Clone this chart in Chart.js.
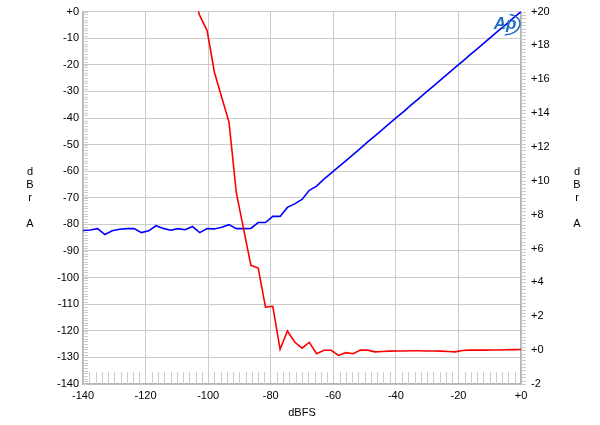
<!DOCTYPE html>
<html>
<head>
<meta charset="utf-8">
<script src="https://cdn.jsdelivr.net/npm/chart.js@4.4.1/dist/chart.umd.min.js"></script>
<style>
    html, body { margin: 0; padding: 0; background: #fff; overflow: hidden; }
    #wrap { position: relative; width: 600px; height: 425px; overflow: hidden; }
    #inner { position: absolute; left: 0; top: -5px; width: 600px; height: 430px; }
</style>
</head>
<body>
<div id="wrap"><div id="inner"><canvas id="myChart"></canvas></div></div>
<script>
// sweep levels, dBFS
const levels = [
    -140, -137.67, -135.33, -133, -130.67, -128.33, -126, -123.67, -121.33, -119,
    -116.67, -114.33, -112, -109.67, -107.33, -105, -102.67, -100.33, -98, -95.67,
    -93.33, -91, -88.67, -86.33, -84, -81.67, -79.33, -77, -74.67, -72.33,
    -70, -67.67, -65.33, -63, -60.67, -58.33, -56, -53.67, -51.33, -49,
    -46.67, -44.33, -42, -39.67, -37.33, -35, -32.67, -30.33, -28, -25.67,
    -23.33, -21, -18.67, -16.33, -14, -11.67, -9.33, -7, -4.67, -2.33, 0
];

// blue trace, left axis (dBr A)
const levelOut = [
    -82.3, -82.1, -81.6, -83.8, -82.4, -81.8, -81.6, -81.6, -83.1, -82.4,
    -80.5, -81.5, -82.2, -81.6, -82.0, -80.8, -83.1, -81.6, -81.7, -81.1,
    -80.1, -81.6, -81.6, -81.5, -79.3, -79.3, -77.0, -77.0, -73.6, -72.3,
    -70.6, -67.2, -65.6, -63.0, -60.7, -58.4, -56.1, -53.8, -51.4, -49.0,
    -46.7, -44.4, -42.0, -39.7, -37.4, -35.0, -32.7, -30.3, -28.0, -25.7,
    -23.3, -21.0, -18.7, -16.3, -14.0, -11.7, -9.3, -7.0, -4.7, -2.3, 0.0
];

// red trace, right axis, starts at -105 dBFS (above the top at lower levels)
const errLevels = levels.slice(15);
const linError = [
    21.0, 19.76, 18.88, 16.42, 14.94, 13.47, 9.3, 7.16, 5.01, 4.85,
    2.54, 2.59, 0.05, 1.13, 0.48, 0.12, 0.46, -0.21, -0.01, -0.01,
    -0.31, -0.15, -0.21, 0.01, 0.0, -0.1, -0.08, -0.06, -0.05, -0.05,
    -0.04, -0.04, -0.05, -0.05, -0.06, -0.08, -0.1, -0.02, 0.0, 0.0,
    0.0, 0.01, 0.01, 0.02, 0.03, 0.04
];

const leftLabel = ['d', 'B', 'r', '', 'A'];
const xTitle = 'dBFS';

const FONT = 'Liberation Sans, Arial, sans-serif';
const GRID = '#cbcbcb';

function pts(xs, ys) {
    return xs.map((x, i) => ({ x: x, y: ys[i] }));
}

function plusZero(v) {
    return v > 0 ? '+' + v : (v === 0 ? '+0' : String(v));
}

// extra drawing: minor ticks, stacked axis labels, AP logo
const decorations = {
    id: 'decorations',
    beforeDatasetsDraw(chart) {
        const c = chart.ctx;
        const a = chart.chartArea;
        const x = chart.scales.x, y = chart.scales.y, y1 = chart.scales.y1;
        c.save();
        c.strokeStyle = GRID;
        c.lineWidth = 1;
        c.beginPath();
        for (let v = -140; v <= 0; v += 1) {
            const py = Math.round(y.getPixelForValue(v)) + 0.5;
            c.moveTo(a.left, py); c.lineTo(a.left + 5, py);
        }
        for (let v = -2; v <= 20.001; v += 0.2) {
            const py = Math.round(y1.getPixelForValue(v)) + 0.5;
            c.moveTo(a.right, py); c.lineTo(a.right + 5, py);
        }
        for (let v = -138; v < 0; v += 2) {
            if (v % 20 === 0) continue;
            const px = Math.round(x.getPixelForValue(v)) + 0.5;
            c.moveTo(px, a.bottom); c.lineTo(px, a.bottom - 12);
        }
        c.stroke();
        c.restore();
    },
    afterDraw(chart) {
        const c = chart.ctx;
        const a = chart.chartArea;
        const mid = (a.top + a.bottom) / 2;
        c.save();
        c.fillStyle = '#000';
        c.font = '11px ' + FONT;
        c.textAlign = 'center';
        c.textBaseline = 'middle';
        leftLabel.forEach((t, i) => {
            c.fillText(t, 30, mid - 26 + i * 13);
            c.fillText(t, 577, mid - 26 + i * 13);
        });
        // AP logo
        c.fillStyle = '#1f6fbf';
        c.font = 'italic bold 17px ' + FONT;
        c.fillText('Ap', 505, a.top + 13);
        c.strokeStyle = '#1f6fbf';
        c.lineWidth = 1.5;
        c.beginPath();
        c.ellipse(507, a.top + 13, 13, 10, -0.2, -1.2, 1.9);
        c.stroke();
        c.restore();
    }
};

const ctx = document.getElementById('myChart').getContext('2d');
const myChart = new Chart(ctx, {
    type: 'line',
    data: {
        datasets: [{
            label: 'Level',
            data: pts(levels, levelOut),
            yAxisID: 'y',
            borderColor: '#0000ff',
            borderWidth: 1.6,
            pointRadius: 0,
            tension: 0,
            order: 1
        }, {
            label: 'Error',
            data: pts(errLevels, linError),
            yAxisID: 'y1',
            borderColor: '#ff0000',
            borderWidth: 1.6,
            pointRadius: 0,
            tension: 0,
            clip: 0,
            order: 0
        }]
    },
    options: {
        responsive: true,
        maintainAspectRatio: false,
        animation: false,
        events: [],
        layout: { padding: { top: 6, left: 0, right: 0, bottom: 0 } },
        plugins: {
            legend: { display: false },
            tooltip: { enabled: false }
        },
        scales: {
            x: {
                type: 'linear',
                min: -140,
                max: 0,
                border: { color: '#b4b4b4', width: 1.5 },
                grid: { color: GRID, lineWidth: 1, drawTicks: false },
                ticks: {
                    stepSize: 20,
                    padding: 5,
                    color: '#000',
                    font: { family: FONT, size: 11 },
                    maxRotation: 0,
                    callback: plusZero
                },
                title: {
                    display: true,
                    text: xTitle,
                    color: '#000',
                    font: { family: FONT, size: 11 },
                    padding: { top: 0, bottom: 5 }
                },
                afterFit(scale) { scale.height = 41; }
            },
            y: {
                position: 'left',
                min: -140,
                max: 0,
                border: { color: '#b4b4b4', width: 1.5 },
                grid: { color: GRID, lineWidth: 1, drawTicks: false },
                ticks: {
                    stepSize: 10,
                    padding: 4,
                    color: '#000',
                    font: { family: FONT, size: 11 },
                    callback: plusZero
                },
                afterFit(scale) { scale.width = 83; }
            },
            y1: {
                position: 'right',
                min: -2,
                max: 20,
                border: { color: '#b4b4b4', width: 1.5 },
                grid: { drawOnChartArea: false, drawTicks: false },
                ticks: {
                    stepSize: 2,
                    padding: 10,
                    color: '#000',
                    font: { family: FONT, size: 11 },
                    callback: plusZero
                },
                afterFit(scale) { scale.width = 79; }
            }
        }
    },
    plugins: [decorations]
});
</script>
</body>
</html>
